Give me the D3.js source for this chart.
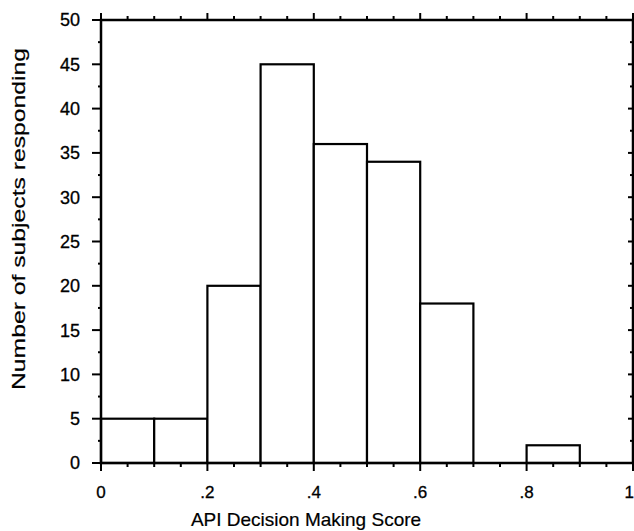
<!DOCTYPE html>
<html lang="en">
<head>
<meta charset="UTF-8">
<title>API Decision Making Score</title>
<style>
    body { margin: 0; background: #fff; }
    svg { display: block; font-family: "Liberation Sans", Arial, Helvetica, sans-serif; }
</style>
</head>
<body>
<div id="chart"></div>
<script src="https://d3js.org/d3.v7.min.js"></script>
<script>
    // histogram bins (left edge) and counts
    const binStarts = [0, 0.1, 0.2, 0.3, 0.4, 0.5, 0.6, 0.7, 0.8, 0.9]
    const binWidth = 0.1
    const counts = [5, 5, 20, 45, 36, 34, 18, 0, 2, 0]

    const xTickValues = [0, 0.2, 0.4, 0.6, 0.8, 1]
    const xTickLabels = ['0', '.2', '.4', '.6', '.8', '1']
    const yTickValues = [0, 5, 10, 15, 20, 25, 30, 35, 40, 45, 50]

    const xTitle = 'API Decision Making Score'
    const yTitle = 'Number of subjects responding'

    const width = 634
    const height = 531
    const plotLeft = 101, plotRight = 633, plotTop = 20, plotBottom = 463

    const x = d3.scaleLinear().domain([0, 1]).range([plotLeft, plotRight])
    const y = d3.scaleLinear().domain([0, 50]).range([plotBottom, plotTop])

    const svg = d3.select('#chart').append('svg')
        .attr('width', width)
        .attr('height', height)

    // bars
    svg.append('g')
        .selectAll('rect')
        .data(binStarts.map((b, i) => ({ x0: b, x1: b + binWidth, n: counts[i] })).filter(d => d.n > 0))
        .join('rect')
        .attr('x', d => x(d.x0))
        .attr('y', d => y(d.n))
        .attr('width', d => x(d.x1) - x(d.x0))
        .attr('height', d => y(0) - y(d.n))
        .attr('fill', '#fff')
        .attr('stroke', '#000')
        .attr('stroke-width', 2.2)

    // minor / major tick helpers
    const minorX = d3.range(0, 1.0001, 0.05)
    const minorY = d3.range(0, 50.001, 2.5)

    function tickLines(g, vals, fn) {
        g.selectAll('line').data(vals).join('line')
            .attr('stroke', '#000')
            .attr('stroke-width', 2)
            .each(function (d) { fn(d3.select(this), d) })
    }

    const ticks = svg.append('g')
    // bottom ticks, pointing down
    tickLines(ticks.append('g'), minorX, (s, d) => {
        const major = Math.abs(d * 5 - Math.round(d * 5)) < 1e-6
        s.attr('x1', x(d)).attr('x2', x(d)).attr('y1', plotBottom).attr('y2', plotBottom + (major ? 8 : 4))
    })
    // top ticks, pointing up
    tickLines(ticks.append('g'), minorX, (s, d) => {
        const major = Math.abs(d * 5 - Math.round(d * 5)) < 1e-6
        s.attr('x1', x(d)).attr('x2', x(d)).attr('y1', plotTop).attr('y2', plotTop - (major ? 7 : 4))
    })
    // left ticks, pointing out
    tickLines(ticks.append('g'), minorY, (s, d) => {
        const major = d % 5 === 0
        s.attr('y1', y(d)).attr('y2', y(d)).attr('x1', plotLeft).attr('x2', plotLeft - (major ? 9 : 3))
    })
    // right ticks, pointing in
    tickLines(ticks.append('g'), minorY, (s, d) => {
        const major = d % 5 === 0
        s.attr('y1', y(d)).attr('y2', y(d)).attr('x1', plotRight).attr('x2', plotRight - (major ? 5 : 3))
    })

    // frame
    svg.append('rect')
        .attr('x', plotLeft)
        .attr('y', plotTop)
        .attr('width', plotRight - plotLeft)
        .attr('height', plotBottom - plotTop)
        .attr('fill', 'none')
        .attr('stroke', '#000')
        .attr('stroke-width', 2.5)

    // tick labels (last one sits at the page edge, so keep it inside)
    svg.append('g')
        .attr('font-size', 17)
        .attr('fill', '#000')
        .attr('stroke', '#000')
        .attr('stroke-width', 0.3)
        .selectAll('text')
        .data(xTickValues)
        .join('text')
        .attr('x', d => d === 1 ? width : x(d))
        .attr('text-anchor', d => d === 1 ? 'end' : 'middle')
        .attr('y', 498)
        .text((d, i) => xTickLabels[i])

    svg.append('g')
        .attr('font-size', 18)
        .attr('text-anchor', 'end')
        .attr('stroke', '#000')
        .attr('stroke-width', 0.3)
        .selectAll('text')
        .data(yTickValues)
        .join('text')
        .attr('x', 80)
        .attr('y', d => y(d))
        .attr('dy', '0.36em')
        .text(d => d)

    // axis titles
    svg.append('text')
        .attr('x', 306)
        .attr('y', 526)
        .attr('text-anchor', 'middle')
        .attr('font-size', 19)
        .attr('stroke', '#000')
        .attr('stroke-width', 0.2)
        .text(xTitle)

    svg.append('text')
        .attr('transform', `translate(25, 219) rotate(-90)`)
        .attr('text-anchor', 'middle')
        .attr('font-size', 19)
        .attr('stroke', '#000')
        .attr('stroke-width', 0.2)
        .attr('textLength', 342)
        .attr('lengthAdjust', 'spacingAndGlyphs')
        .text(yTitle)
</script>
</body>
</html>
